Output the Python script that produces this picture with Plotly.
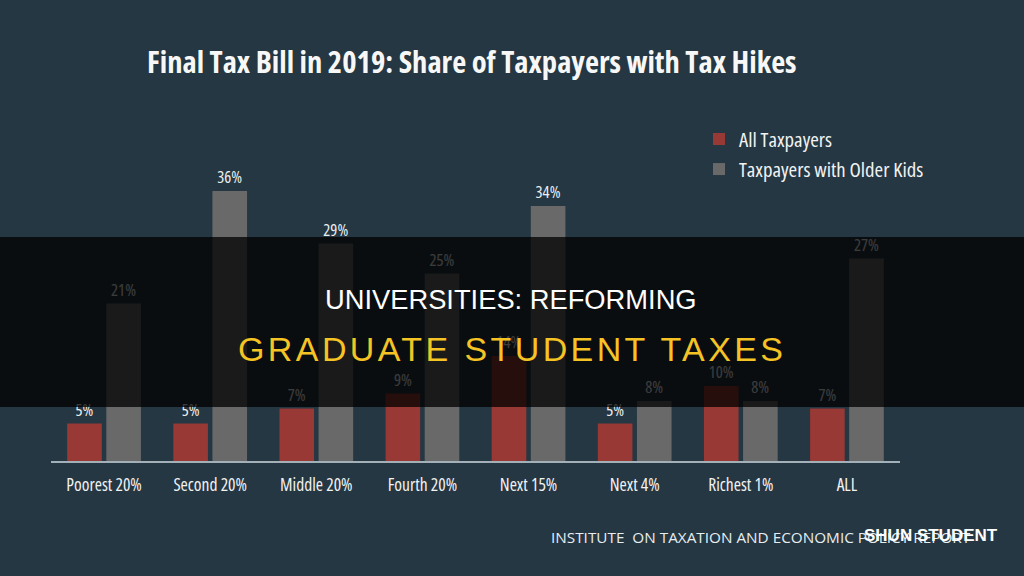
import plotly.graph_objects as go

categories = ["Poorest 20%", "Second 20%", "Middle 20%", "Fourth 20%",
              "Next 15%", "Next 4%", "Richest 1%", "ALL"]
all_taxpayers = [5, 5, 7, 9, 14, 5, 10, 7]
older_kids = [21, 36, 29, 25, 34, 8, 8, 27]
series_names = ["All Taxpayers", "Taxpayers with Older Kids"]

BG = "#243742"
RED = "#983936"
GREY = "#696969"
FONT = "Open Sans"


def cond(s):
    return f'<span style="font-stretch:75%">{s}</span>'


fig = go.Figure()
fig.add_trace(go.Bar(
    x=categories, y=all_taxpayers, name=cond(series_names[0]),
    marker=dict(color=RED, line=dict(width=0)),
    text=[cond(f"{v}%") for v in all_taxpayers], textposition="outside",
    textfont=dict(family=FONT, size=16.5, color="#eeeeee"), cliponaxis=False,
))
fig.add_trace(go.Bar(
    x=categories, y=older_kids, name=cond(series_names[1]),
    marker=dict(color=GREY, line=dict(width=0)),
    text=[cond(f"{v}%") for v in older_kids], textposition="outside",
    textfont=dict(family=FONT, size=16.5, color="#eeeeee"), cliponaxis=False,
))

L, R, T, B = 51, 124, 161, 115
W, H = 1024, 576
pw = W - L - R
ph = H - T - B


def px_x(p):
    return (p - L) / pw


def px_y(p):
    return (H - B - p) / ph


fig.update_layout(
    width=W, height=H,
    margin=dict(l=L, r=R, t=T, b=B, pad=0),
    paper_bgcolor=BG, plot_bgcolor=BG,
    barmode="group", bargap=0.263, bargroupgap=0.115,
    showlegend=True,
    legend=dict(
        x=px_x(699), xanchor="left", y=px_y(119), yanchor="top",
        bgcolor="rgba(0,0,0,0)", font=dict(family=FONT, size=20.8, color="#f2f2f2"),
        itemclick=False, itemdoubleclick=False, tracegroupgap=0,
    ),
    title=dict(
        text=cond("<b>Final Tax Bill in 2019: Share of Taxpayers with Tax Hikes</b>"),
        x=147 / W, xanchor="left", y=1 - 62 / H, yanchor="middle",
        font=dict(family=FONT, size=30.6, color="#f7f7f7"),
    ),
    xaxis=dict(
        showline=True, linecolor="#a3b0b8", linewidth=2, ticks="",
        showgrid=False, zeroline=False, range=[-0.5, 7.5],
        tickmode="array", tickvals=categories,
        ticktext=[cond(c) for c in categories],
        tickfont=dict(family=FONT, size=17.5, color="#f2f2f2"),
        ticklabelstandoff=7,
    ),
    yaxis=dict(
        range=[0, 40], visible=False, showgrid=False, zeroline=False,
    ),
)

# dark overlay band
fig.add_shape(
    type="rect", xref="paper", yref="paper",
    x0=px_x(-5), x1=px_x(W + 5), y0=px_y(407), y1=px_y(237),
    fillcolor="rgba(0,0,0,0.75)", line=dict(width=0), layer="above",
)

fig.add_annotation(
    text="UNIVERSITIES: REFORMING", xref="paper", yref="paper",
    x=px_x(511), y=px_y(299), xanchor="center", yanchor="middle", showarrow=False,
    font=dict(family="Liberation Sans", size=27.3, color="#ffffff"),
)
fig.add_annotation(
    text='<span style="letter-spacing:3.4px">GRADUATE STUDENT TAXES</span>',
    xref="paper", yref="paper",
    x=px_x(512), y=px_y(349), xanchor="center", yanchor="middle", showarrow=False,
    font=dict(family="Liberation Sans", size=34, color="#f5c324"),
)
fig.add_annotation(
    text="INSTITUTE  ON TAXATION AND ECONOMIC POLICY REPORT",
    xref="paper", yref="paper",
    x=px_x(549), y=px_y(537), xanchor="left", yanchor="middle", showarrow=False,
    font=dict(family=FONT, size=15.3, color="#e8edf0"),
)
fig.add_annotation(
    text="<b>SHUN STUDENT</b>", xref="paper", yref="paper",
    x=px_x(931), y=px_y(535), xanchor="center", yanchor="middle", showarrow=False,
    font=dict(family="Liberation Sans", size=17, color="#ffffff"),
)

fig.write_html("out.html")
